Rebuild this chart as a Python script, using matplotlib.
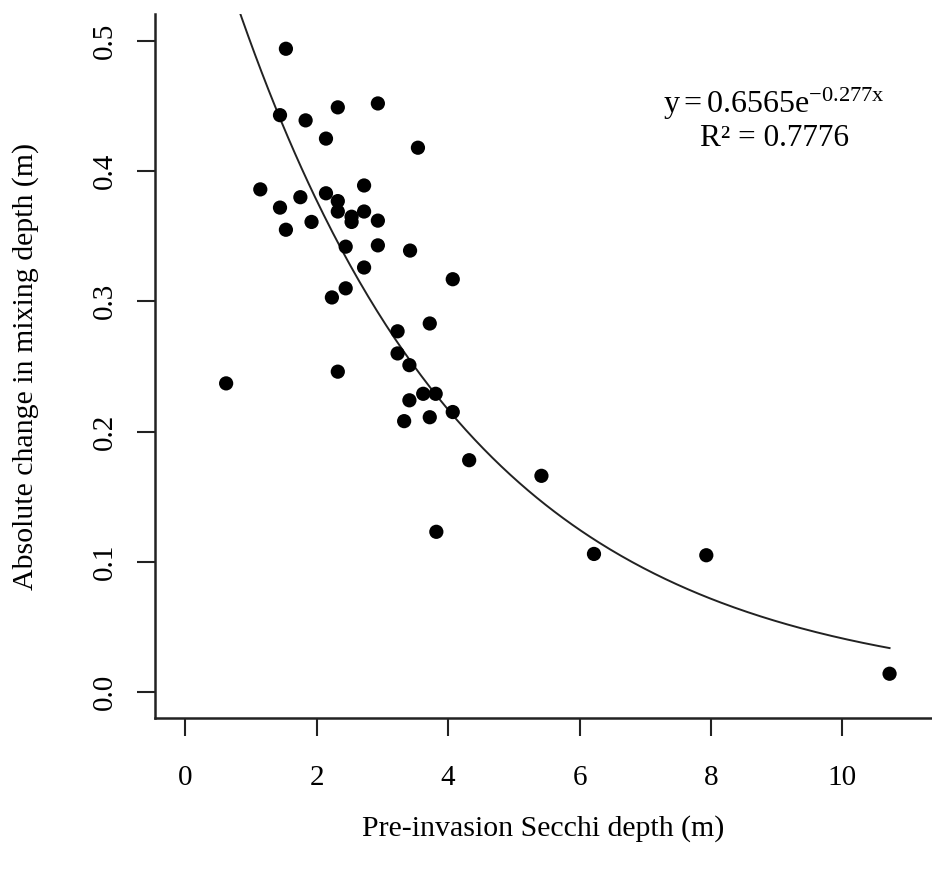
import numpy as np
import matplotlib.pyplot as plt

plt.rcParams['font.family'] = ['Liberation Serif', 'DejaVu Serif']
plt.rcParams['mathtext.fontset'] = 'custom'
plt.rcParams['mathtext.rm'] = 'Liberation Serif'
plt.rcParams['mathtext.it'] = 'Liberation Serif:italic'

# Pre-invasion Secchi depth (m)
secchi = [1.53, 2.32, 2.93, 1.44, 1.83, 2.14, 3.54, 1.14, 2.72, 1.75,
          2.14, 2.32, 2.32, 1.44, 2.53, 2.53, 2.72, 2.93, 1.92, 1.53,
          2.44, 2.93, 3.42, 2.72, 4.07, 2.44, 2.23, 3.23, 3.72, 3.23,
          3.41, 2.32, 0.62, 3.62, 3.81, 3.41, 4.07, 3.72, 3.33, 4.32,
          5.42, 3.82, 6.22, 7.93, 10.72]
# Absolute change in mixing depth (m)
mix_change = [0.494, 0.449, 0.452, 0.443, 0.439, 0.425, 0.418, 0.386, 0.389, 0.380,
              0.383, 0.377, 0.369, 0.372, 0.365, 0.361, 0.369, 0.362, 0.361, 0.355,
              0.342, 0.343, 0.339, 0.326, 0.317, 0.310, 0.303, 0.277, 0.283, 0.260,
              0.251, 0.246, 0.237, 0.229, 0.229, 0.224, 0.215, 0.211, 0.208, 0.178,
              0.166, 0.123, 0.106, 0.105, 0.014]

# exponential fit shown on the chart
FIT_A = 0.6565
FIT_B = -0.277
R2 = 0.7776

x_ticks = [0, 2, 4, 6, 8, 10]
y_ticks = [0.0, 0.1, 0.2, 0.3, 0.4, 0.5]

W, H = 932, 877
fig = plt.figure(figsize=(W / 100, H / 100), dpi=100)
ax = fig.add_axes([155 / W, (H - 718) / H, 1 - 155 / W, (718 - 14) / H])

ax.scatter(secchi, mix_change, s=105, color='black', edgecolors='none', zorder=3)

xfit = np.linspace(min(secchi), max(secchi), 300)
ax.plot(xfit, FIT_A * np.exp(FIT_B * xfit), color='#222222', lw=1.4)

ax.set_xlim(-0.463, 11.366)
ax.set_ylim(-0.02, 0.5207)
ax.set_xticks(x_ticks)
ax.set_xticklabels([str(t) for t in x_ticks])
ax.set_yticks(y_ticks)
ax.set_yticklabels(['%.1f' % t for t in y_ticks], rotation=90, va='center')

for side in ['top', 'right']:
    ax.spines[side].set_visible(False)
for side in ['left', 'bottom']:
    ax.spines[side].set_linewidth(1.8)
    ax.spines[side].set_color('#222222')

ax.tick_params(axis='both', length=13, width=1.5, color='#222222', labelsize=21)
ax.tick_params(axis='x', pad=21)
ax.tick_params(axis='y', pad=14)

ax.set_xlabel('Pre-invasion Secchi depth (m)', fontsize=21.5, labelpad=17)
ax.set_ylabel('Absolute change in mixing depth (m)', fontsize=21.5, labelpad=38)

# fit equation, placed in figure pixels
fig.text(774 / W, 1 - 104 / H, r'$\mathrm{y = %.4fe^{%.3fx}}$' % (FIT_A, FIT_B),
         ha='center', va='center', fontsize=23)
fig.text(775 / W, 1 - 139 / H, 'R\u00b2 = %.4f' % R2,
         ha='center', va='center', fontsize=22.5)

fig.savefig('out.png', dpi=100)
